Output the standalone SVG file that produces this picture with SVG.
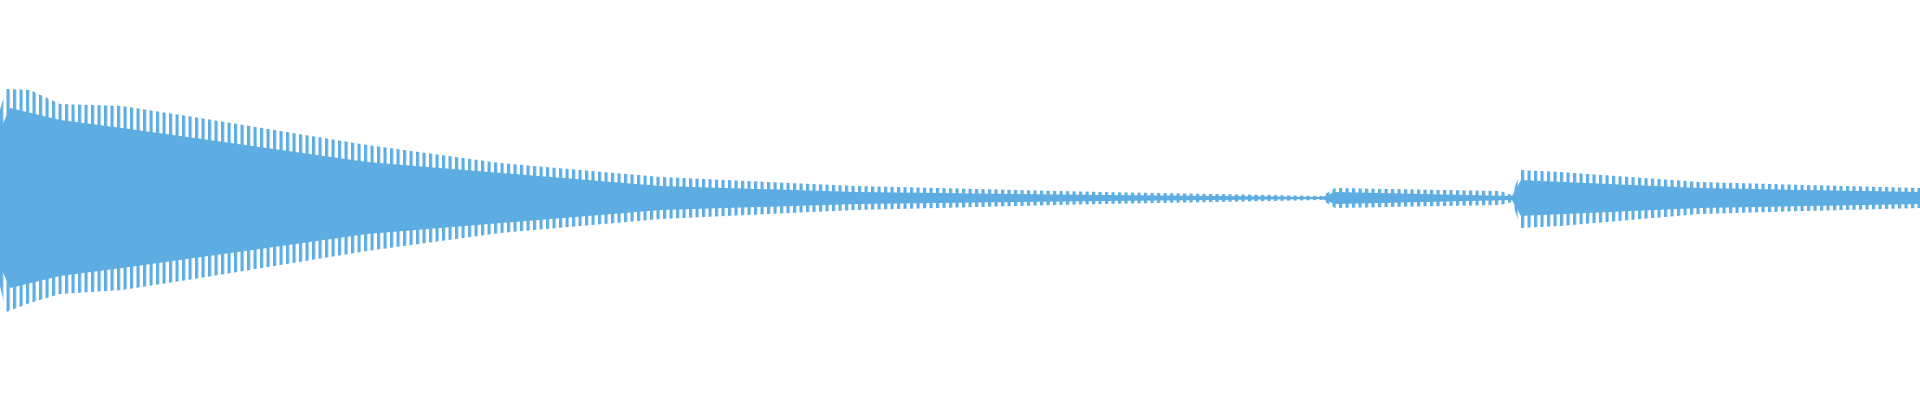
<svg xmlns="http://www.w3.org/2000/svg" width="1920" height="400" viewBox="0 0 1920 400">
<style>.w{fill:#5DADE2}.s{fill:url(#st)}</style>
<defs><pattern id="st" width="6.5" height="400" patternUnits="userSpaceOnUse"><rect x="0" y="0" width="3.2" height="400" fill="#5DADE2"/></pattern></defs>
<rect width="1920" height="400" fill="#fff"/>
<path class="s" d="M0,110 L6,89 L30,90 L60,104 L122,106 L200,118 L367,145 L500,163 L661,177 L857,186 L1102,192 L1322,196 L1335,188 L1500,191 L1512,195 L1521,170 L1560,172 L1700,182 L1920,188 L1920,208 L1700,214 L1560,226 L1521,228 L1512,202 L1500,205 L1335,208 L1322,200 L1102,204 L857,210 L661,219 L500,233 L367,251 L200,278 L122,290 L60,294 L30,303 L6,312 L0,286 Z"/>
<path class="w" d="M0,130 L10,108 L60,120 L122,128 L367,162 L661,186 L857,192 L1102,195 L1322,197 L1335,192 L1512,196 L1521,180 L1700,188 L1920,192 L1920,204 L1700,208 L1521,216 L1512,200 L1335,204 L1322,199 L1102,201 L857,204 L661,210 L367,234 L122,268 L60,276 L10,288 L0,266 Z"/>
</svg>
